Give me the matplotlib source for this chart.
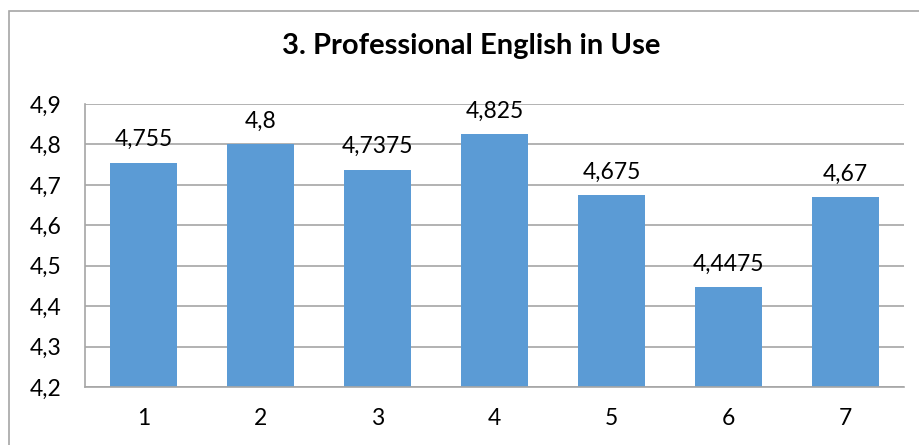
import matplotlib.pyplot as plt
from matplotlib.patches import Rectangle
from matplotlib.ticker import FuncFormatter

categories = ['1', '2', '3', '4', '5', '6', '7']
values = [4.755, 4.8, 4.7375, 4.825, 4.675, 4.4475, 4.67]
labels = ['4,755', '4,8', '4,7375', '4,825', '4,675', '4,4475', '4,67']
title = '3. Professional English in Use'

plt.rcParams['font.family'] = ['Lato', 'DejaVu Sans']

W, H = 920, 445
fig = plt.figure(figsize=(W / 100, H / 100), dpi=100)
ax = fig.add_axes([85 / W, 1 - 387 / H, (904 - 85) / W, (387 - 104) / H])

# outer chart border (runs off right and bottom edge)
fig.patches.append(Rectangle((9 / W, -0.1), 1.2, 1 - 11 / H + 0.1, transform=fig.transFigure,
                             fill=False, edgecolor='#a6a6a6', linewidth=1.2))

x = range(len(categories))
ax.bar(x, values, width=0.57, color='#5b9bd5', zorder=2)
for xi, v, lab in zip(x, values, labels):
    ax.annotate(lab, (xi, v), xytext=(0, 9), textcoords='offset points',
                ha='center', va='bottom', fontsize=16.5, color='#000000')

ax.set_xlim(-0.5, 6.5)
ax.set_ylim(4.2, 4.9)
ax.set_yticks([4.2, 4.3, 4.4, 4.5, 4.6, 4.7, 4.8, 4.9])
ax.yaxis.set_major_formatter(FuncFormatter(lambda v, p: f'{v:.1f}'.replace('.', ',')))
ax.set_xticks(list(x))
ax.set_xticklabels(categories)
ax.grid(axis='y', color='#a6a6a6', linewidth=1.2, zorder=0)
ax.tick_params(length=0, labelsize=16.5)
ax.tick_params(axis='y', pad=17)
ax.tick_params(axis='x', pad=15)
for s in ['top', 'right']:
    ax.spines[s].set_visible(False)
for s in ['left', 'bottom']:
    ax.spines[s].set_color('#a6a6a6')
    ax.spines[s].set_linewidth(1.2)

fig.text(471 / W, 1 - 46 / H, title, ha='center', va='center', fontsize=21, fontweight='bold')

fig.savefig('out.png', dpi=100)
